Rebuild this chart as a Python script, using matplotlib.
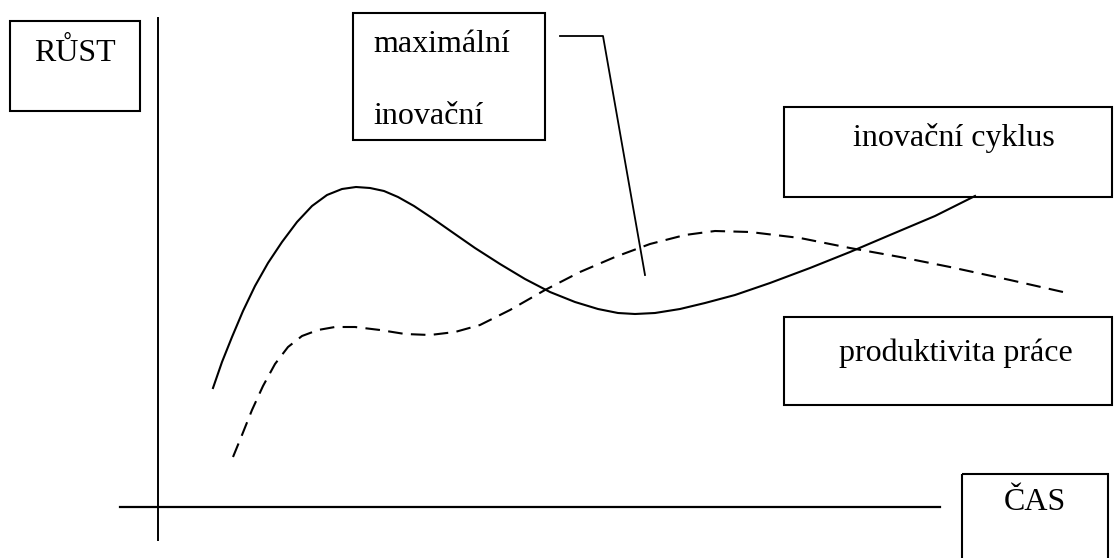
import numpy as np
import matplotlib.pyplot as plt
from matplotlib.patches import Rectangle

plt.rcParams['font.family'] = ['Liberation Serif', 'DejaVu Serif']

# curve points (x = čas, y = růst, image pixel units)
inovace_x = [213, 222, 232, 243, 255, 268, 282, 297, 312, 327, 342, 356, 370, 384,
             398, 414, 432, 452, 475, 500, 525, 550, 575, 598, 618, 635, 655, 680,
             705, 735, 770, 810, 850, 890, 935, 975]
inovace_y = [388, 362, 337, 311, 286, 263, 242, 222, 206, 195, 189, 187, 188, 191,
             197, 206, 218, 232, 248, 264, 279, 292, 302, 309, 313, 314, 313, 309,
             303, 295, 283, 268, 252, 235, 216, 196]

produktivita_x = [233, 242, 252, 263, 275, 288, 302, 318, 335, 355, 380, 405, 430,
                  455, 480, 510, 545, 580, 615, 650, 685, 715, 750, 800, 850, 900,
                  950, 1010, 1063]
produktivita_y = [457, 435, 410, 386, 364, 347, 336, 330, 327, 327, 330, 334, 335,
                  332, 325, 310, 290, 272, 257, 244, 235, 231, 232, 238, 248, 257,
                  267, 280, 292]

leader_x = [560, 603, 645]
leader_y = [36, 36, 275]

fig = plt.figure(figsize=(11.14, 5.58), dpi=100)
ax = fig.add_axes([0, 0, 1, 1])
ax.set_xlim(0, 1114)
ax.set_ylim(558, 0)
ax.axis('off')

# axes of the diagram
ax.plot([158, 158], [18, 540], color='black', lw=1.4)
ax.plot([120, 940], [507, 507], color='black', lw=1.6)

# curves
ax.plot(inovace_x, inovace_y, color='black', lw=1.5, solid_joinstyle='round')
ax.plot(produktivita_x, produktivita_y, color='black', lw=1.5,
        linestyle=(0, (7, 4)))
ax.plot(leader_x, leader_y, color='black', lw=1.3)

# boxes with labels
boxes = [
    (10, 21, 130, 90),
    (353, 13, 192, 127),
    (784, 107, 328, 90),
    (784, 317, 328, 88),
    (962, 474, 146, 90),
]
for bx, by, bw, bh in boxes:
    ax.add_patch(Rectangle((bx, by), bw, bh, fill=False, edgecolor='black', lw=1.5))

fs = 23
ax.text(75, 53, 'RŮST', fontsize=fs, ha='center', va='center')
ax.text(373, 44, 'maximální', fontsize=fs, ha='left', va='center')
ax.text(373, 116, 'inovační', fontsize=fs, ha='left', va='center')
ax.text(954, 138, 'inovační cyklus', fontsize=fs, ha='center', va='center')
ax.text(956, 353, 'produktivita práce', fontsize=fs, ha='center', va='center')
ax.text(1035, 503, 'ČAS', fontsize=fs, ha='center', va='center')

fig.savefig('out.png', dpi=100)
